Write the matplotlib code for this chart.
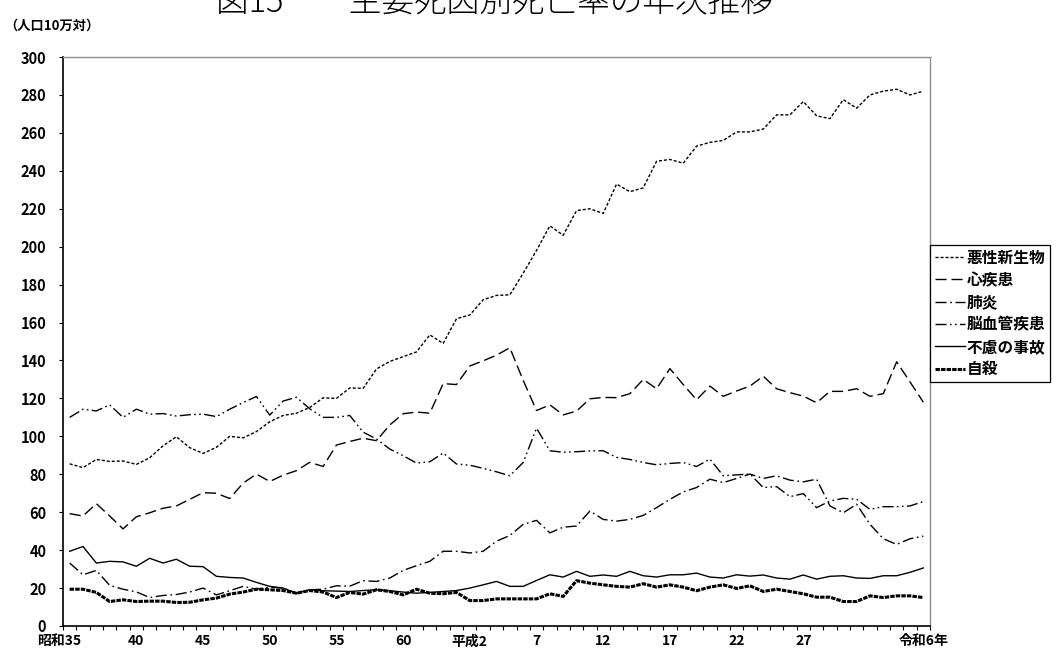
import numpy as np
import matplotlib
matplotlib.use('Agg')
import matplotlib.pyplot as plt
from matplotlib.transforms import ScaledTranslation

plt.rcParams['font.family'] = ['Noto Sans CJK JP', 'DejaVu Sans']
plt.rcParams['lines.scale_dashes'] = False

# 昭和35年(1960) ～ 令和6年(2024)
n_years = 65
tick_pos = [0, 5, 10, 15, 20, 25, 30, 35, 40, 45, 50, 55, 64]
tick_labels = ['昭和35', '40', '45', '50', '55', '60', '平成2', '7', '12', '17', '22', '27', '令和6年']

neoplasm = [85.5, 83.5, 87.8, 86.8, 87.0, 85.2, 88.7, 95.0, 99.8, 94.0,
            91.0, 94.2, 100.0, 99.2, 102.5, 107.7, 111.0, 112.2, 115.2, 120.3,
            120.0, 125.5, 125.3, 135.5, 139.5, 142.0, 144.5, 153.5, 149.0, 162.0,
            164.0, 172.0, 174.3, 174.6, 186.0, 198.0, 211.0, 206.0, 219.0, 220.0,
            217.5, 233.0, 229.0, 231.0, 245.0, 246.0, 244.0, 253.0, 255.0, 256.0,
            260.5, 260.5, 262.0, 269.5, 269.5, 276.5, 269.0, 267.5, 277.5, 273.0,
            280.0, 282.0, 283.0, 280.0, 282.0]
heart = [59.2, 58.0, 64.5, 58.0, 51.2, 57.6, 59.7, 62.1, 63.3, 66.8,
         70.3, 70.0, 67.2, 75.3, 80.1, 76.2, 79.5, 81.9, 86.3, 84.1,
         95.4, 97.3, 99.0, 97.7, 106.0, 111.9, 112.8, 112.2, 127.8, 127.3,
         137.1, 139.8, 142.8, 146.7, 129.5, 113.6, 116.6, 111.3, 113.3, 119.8,
         120.5, 120.4, 122.5, 130.0, 125.1, 135.7, 127.3, 119.3, 126.5, 121.1,
         123.9, 126.5, 131.7, 125.1, 123.0, 121.2, 117.7, 123.7, 123.7, 125.1,
         121.1, 122.5, 139.3, 128.7, 118.0]
pneumonia = [33.2, 27.0, 29.3, 21.4, 19.4, 18.0, 15.0, 16.1, 16.6, 17.9,
             20.0, 16.4, 18.6, 20.9, 19.4, 20.5, 20.0, 17.3, 19.1, 19.4,
             21.2, 21.0, 23.9, 23.5, 25.3, 29.3, 31.8, 34.1, 39.4, 39.4,
             38.5, 39.4, 44.7, 47.7, 53.6, 55.7, 49.1, 52.1, 52.7, 60.6,
             56.2, 55.3, 56.2, 58.3, 62.4, 66.8, 70.7, 73.0, 77.4, 75.6,
             77.8, 80.1, 77.8, 79.2, 76.9, 76.0, 77.4, 63.3, 59.7, 64.2,
             53.6, 46.0, 43.0, 46.0, 47.4]
cerebro = [110.0, 114.3, 113.4, 116.6, 110.0, 114.3, 111.7, 112.0, 110.7, 111.4,
           111.7, 110.4, 114.3, 117.8, 121.0, 111.2, 118.6, 120.6, 114.5, 110.0,
           110.0, 111.0, 102.2, 98.6, 93.3, 89.8, 85.9, 86.6, 91.2, 85.4,
           84.8, 83.1, 81.3, 79.2, 86.2, 104.3, 92.4, 91.6, 91.9, 92.3,
           92.4, 88.9, 87.8, 86.2, 85.0, 85.7, 86.2, 84.1, 88.0, 79.2,
           79.7, 80.1, 73.0, 73.5, 68.2, 69.8, 62.4, 65.9, 67.3, 66.8,
           61.5, 62.9, 62.9, 63.3, 65.6]
accident = [39.4, 41.9, 33.2, 34.1, 33.8, 31.5, 35.7, 33.2, 35.2, 31.5,
            31.3, 26.2, 25.6, 25.3, 23.0, 20.9, 20.0, 17.3, 19.1, 18.6,
            18.4, 18.2, 18.7, 19.1, 18.6, 17.9, 17.3, 17.7, 18.2, 18.7,
            20.0, 21.7, 23.5, 20.9, 20.9, 24.0, 27.0, 25.8, 28.8, 26.2,
            26.9, 26.2, 28.8, 26.5, 25.8, 27.0, 27.0, 27.9, 25.8, 25.3,
            27.0, 26.3, 26.9, 25.3, 24.7, 26.9, 24.7, 26.2, 26.5, 25.3,
            25.1, 26.5, 26.5, 28.3, 30.6]
suicide = [19.4, 19.4, 17.7, 12.9, 13.8, 12.9, 13.1, 13.1, 12.4, 12.5,
           13.8, 14.7, 16.8, 17.9, 19.4, 19.1, 18.7, 17.3, 18.7, 17.9,
           15.0, 17.7, 16.8, 19.1, 18.2, 16.4, 19.4, 17.3, 17.0, 17.7,
           13.4, 13.4, 14.3, 14.3, 14.3, 14.3, 17.0, 15.6, 23.9, 22.6,
           21.7, 20.9, 20.5, 22.3, 20.5, 21.7, 20.5, 18.6, 20.5, 21.7,
           19.8, 21.2, 18.2, 19.4, 18.2, 17.0, 15.2, 15.2, 12.9, 12.9,
           15.9, 15.0, 15.9, 15.9, 15.0]

x = np.arange(n_years)

fig = plt.figure(figsize=(10.56, 6.54), dpi=100)
ax = fig.add_axes([63 / 1056, 1 - 626 / 654, (930 - 63) / 1056, (626 - 57) / 654])

ax.plot(x, neoplasm, color='black', lw=1.0, dashes=(2.2, 1.4), label='悪性新生物')
ax.plot(x, heart, color='black', lw=1.0, dashes=(8, 3.5), label='心疾患')
ax.plot(x, pneumonia, color='black', lw=1.0, dashes=(8, 2.6, 1.2, 2.6), label='肺炎')
ax.plot(x, cerebro, color='black', lw=1.0, dashes=(8, 2.4, 1.2, 2.4, 1.2, 2.4), label='脳血管疾患')
ax.plot(x, accident, color='black', lw=1.0, label='不慮の事故')
ax.plot(x, suicide, color='black', lw=2.2, dashes=(3.2, 0.8), label='自殺', zorder=5)

ax.set_xlim(-0.5, n_years - 0.5)
ax.set_ylim(0, 300)
ax.set_yticks(np.arange(0, 301, 20))
ax.set_xticks(tick_pos)
ax.set_xticklabels(tick_labels)
ax.set_xticks(np.arange(-0.5, n_years, 1), minor=True)

ax.tick_params(axis='x', which='major', length=0, pad=6, labelsize=10)
ax.tick_params(axis='x', which='minor', length=3, width=0.8, direction='out')
ax.tick_params(axis='y', length=3, width=0.8, direction='out', pad=9, labelsize=10.5)
for lab in ax.get_xticklabels() + ax.get_yticklabels():
    lab.set_fontweight('bold')
# first category label sits a bit left in the original
first = ax.get_xticklabels()[0]
first.set_transform(first.get_transform() + ScaledTranslation(-11 / 100, 0, fig.dpi_scale_trans))

for side in ['left', 'bottom']:
    ax.spines[side].set_linewidth(1.2)
    ax.spines[side].set_color('black')
for side in ['top', 'right']:
    ax.spines[side].set_linewidth(1.0)
    ax.spines[side].set_color('#8c8c8c')

leg = ax.legend(loc='upper left', bbox_to_anchor=(930 / 1056, 1 - 245 / 654),
                bbox_transform=fig.transFigure, frameon=True, fancybox=False,
                edgecolor='black', framealpha=1, borderaxespad=0, borderpad=0.3,
                labelspacing=0.4, handlelength=1.95, handletextpad=0.1,
                prop={'size': 11.3, 'weight': 'bold'})
leg.get_frame().set_linewidth(0.9)

fig.text(0.468, 0.995, '図15　　主要死因別死亡率の年次推移', ha='center', va='center',
         fontsize=23.5, fontweight='light')
fig.text(0.004, 0.96, '（人口10万対）', ha='left', va='center', fontsize=9.5, fontweight='bold')

fig.savefig('out.png', dpi=100)
